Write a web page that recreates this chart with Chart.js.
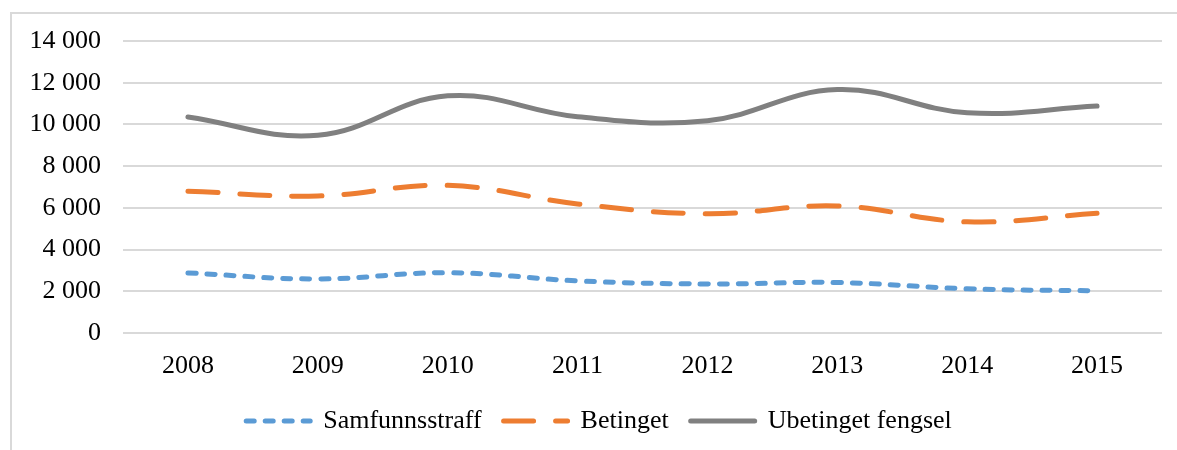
<!DOCTYPE html>
<html>
<head>
<meta charset="utf-8">
<script src="https://cdn.jsdelivr.net/npm/chart.js@4/dist/chart.umd.min.js"></script>
<style>
  html, body { margin: 0; padding: 0; background: #ffffff; overflow: hidden; }
  body { width: 1177px; height: 450px; position: relative; }
  #frame { position: absolute; left: 10px; top: 12px; width: 1300px; height: 600px;
           border: 2px solid #d9d9d9; box-sizing: border-box; }
  #wrap { position: absolute; left: 0; top: 0; width: 1177px; height: 450px; }
</style>
</head>
<body>
<div id="frame"></div>
<div id="wrap"><canvas id="c"></canvas></div>
<script>
const categories = ['2008', '2009', '2010', '2011', '2012', '2013', '2014', '2015'];
const samfunnsstraff = [2880, 2590, 2890, 2500, 2350, 2420, 2120, 2020];
const betinget = [6800, 6570, 7080, 6190, 5720, 6090, 5330, 5740];
const ubetinget = [10360, 9480, 11370, 10370, 10180, 11670, 10560, 10880];
const seriesNames = ['Samfunnsstraff', 'Betinget', 'Ubetinget fengsel'];

const fmt = v => String(v).replace(/\B(?=(\d{3})+(?!\d))/g, ' ');
const FONT = "'Liberation Serif', 'Times New Roman', serif";

const legendShift = {
  id: 'legendShift',
  afterLayout(chart) {
    const lg = chart.legend;
    if (lg) { lg.left += 18; lg.right += 18; }
  }
};

new Chart(document.getElementById('c'), {
  type: 'line',
  data: {
    labels: categories,
    datasets: [
      { label: seriesNames[0], data: samfunnsstraff, borderColor: '#5B9BD5', backgroundColor: '#5B9BD5',
        borderWidth: 5, borderDash: [8, 11], borderCapStyle: 'round', tension: 0.4 },
      { label: seriesNames[1], data: betinget, borderColor: '#ED7D31', backgroundColor: '#ED7D31',
        borderWidth: 5, borderDash: [30, 22], borderCapStyle: 'round', tension: 0.4 },
      { label: seriesNames[2], data: ubetinget, borderColor: '#808080', backgroundColor: '#808080',
        borderWidth: 5, borderCapStyle: 'round', tension: 0.4 }
    ]
  },
  plugins: [legendShift],
  options: {
    responsive: true,
    maintainAspectRatio: false,
    animation: false,
    elements: { point: { radius: 0, hoverRadius: 0 } },
    layout: { padding: { left: 0, right: 15, top: 41, bottom: 6 } },
    plugins: {
      tooltip: { enabled: false },
      legend: {
        position: 'bottom',
        align: 'center',
        labels: {
          usePointStyle: true,
          pointStyle: 'line',
          pointStyleWidth: 64,
          padding: 22,
          color: '#000000',
          font: { family: FONT, size: 26 },
          generateLabels: chart => {
            const items = Chart.defaults.plugins.legend.labels.generateLabels(chart);
            items.forEach(it => {
              const ds = chart.data.datasets[it.datasetIndex];
              it.lineDash = ds.borderDash || [];
              it.lineWidth = ds.borderWidth;
              it.lineCap = 'round';
              it.strokeStyle = ds.borderColor;
              it.pointStyle = 'line';
            });
            return items;
          }
        }
      }
    },
    scales: {
      x: {
        offset: true,
        grid: { display: false, drawTicks: false, offset: true },
        border: { display: false },
        ticks: { color: '#000000', padding: 18, font: { family: FONT, size: 26 }, maxRotation: 0 },
        afterFit: s => { s.height = 53; }
      },
      y: {
        min: 0, max: 14000,
        grid: { color: '#d9d9d9', lineWidth: 2, drawTicks: false },
        border: { display: false },
        ticks: { stepSize: 2000, color: '#000000', padding: 22, font: { family: FONT, size: 26 },
                 callback: v => fmt(v) },
        afterFit: s => { s.width = 123; }
      }
    }
  }
});
</script>
</body>
</html>
